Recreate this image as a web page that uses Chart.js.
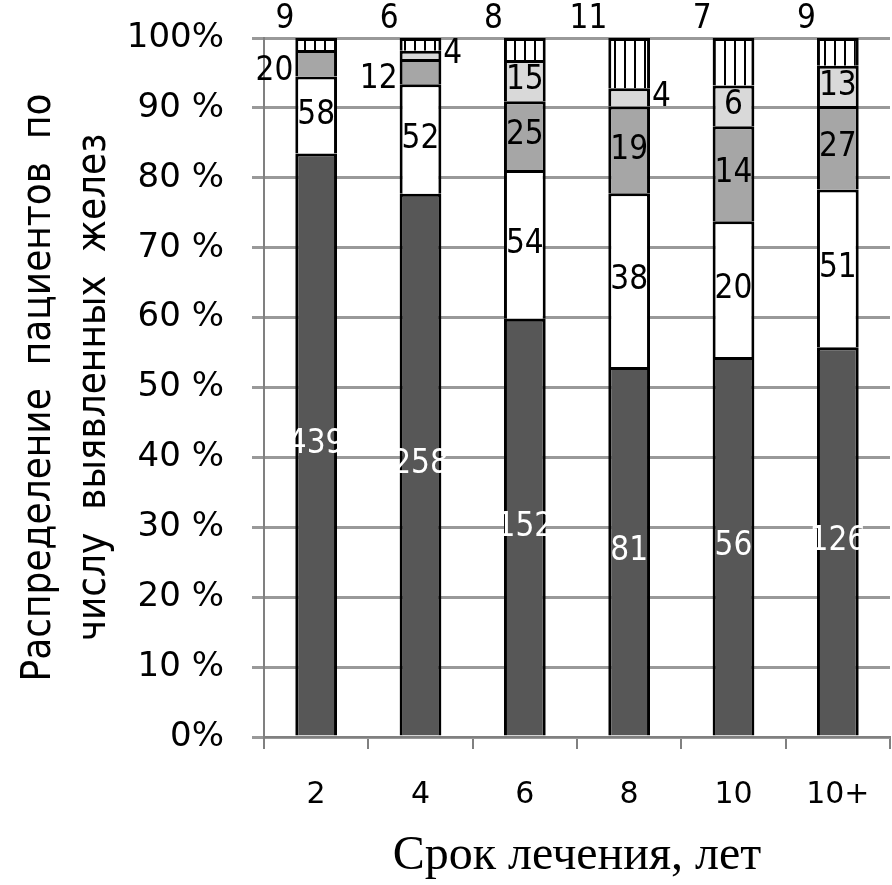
<!DOCTYPE html>
<html>
<head>
<meta charset="utf-8">
<script src="https://cdn.jsdelivr.net/npm/chart.js@4.4.0/dist/chart.umd.min.js"></script>
<style>
  html, body { margin: 0; padding: 0; background: #fff; }
  #wrap { width: 892px; height: 885px; }
</style>
</head>
<body>
<div id="wrap"><canvas id="chart" width="892" height="885"></canvas></div>
<script>
// категории и число пациентов в каждой группе (снизу вверх)
const categories = ['2', '4', '6', '8', '10', '10+'];
const darkCounts  = [439, 258, 152, 81, 56, 126];
const whiteCounts = [58, 52, 54, 38, 20, 51];
const grayCounts  = [20, 12, 25, 19, 14, 27];
const lightCounts = [0, 4, 15, 4, 6, 13];
const hatchCounts = [9, 6, 8, 11, 7, 9];
const yTickLabels = ['0%', '10 %', '20 %', '30 %', '40 %', '50 %', '60 %', '70 %', '80 %', '90 %', '100%'];

const seriesCounts = [darkCounts, whiteCounts, grayCounts, lightCounts, hatchCounts];
const totals = categories.map((_, i) => seriesCounts.reduce((s, arr) => s + arr[i], 0));

// штриховка вертикальными линиями
function hatchPattern() {
  const c = document.createElement('canvas');
  c.width = 10; c.height = 10;
  const g = c.getContext('2d');
  g.fillStyle = '#fff';
  g.fillRect(0, 0, 10, 10);
  g.fillStyle = '#000';
  g.fillRect(4, 0, 2, 10);
  return g.createPattern(c, 'repeat');
}

const colors = ['#575757', '#ffffff', '#a6a6a6', '#d9d9d9', hatchPattern()];

const datasets = seriesCounts.map((counts, di) => ({
  label: 's' + di,
  data: counts.map((c, i) => c / totals[i] * 100),
  backgroundColor: colors[di],
  borderColor: '#000',
  borderWidth: { top: 3, left: 3, right: 3, bottom: 0 },
  borderSkipped: false,
  barPercentage: 0.4,
  categoryPercentage: 1
}));

// подписи значений на сегментах
const labelPlugin = {
  id: 'segLabels',
  afterDatasetsDraw(chart) {
    const ctx = chart.ctx;
    ctx.save();
    ctx.font = '33px "DejaVu Sans Condensed", "DejaVu Sans"';
    chart.data.datasets.forEach((ds, di) => {
      const meta = chart.getDatasetMeta(di);
      meta.data.forEach((el, i) => {
        const n = seriesCounts[di][i];
        if (!n) return;
        const { x, y, base, width } = el.getProps(['x', 'y', 'base', 'width'], true);
        const h = Math.abs(base - y);
        const mid = (y + base) / 2;
        let tx = x, ty = mid, align = 'center', baseline = 'middle';
        if (di === 4) {
          tx = x - width / 2 - 1; ty = y - 2; align = 'right'; baseline = 'bottom';
        } else if (h < 32 && di === 2) {
          tx = x - width / 2 - 2; ty = mid + 8; align = 'right';
        } else if (h < 32) {
          tx = x + width / 2 + 2; align = 'left';
        }
        ctx.fillStyle = di === 0 ? '#fff' : '#000';
        ctx.textAlign = align;
        ctx.textBaseline = baseline;
        ctx.fillText(String(n), tx, ty);
      });
    });
    ctx.restore();
  }
};

const bgPlugin = {
  id: 'bg',
  beforeDraw(chart) {
    const ctx = chart.ctx;
    ctx.save();
    ctx.fillStyle = '#fff';
    ctx.fillRect(0, 0, chart.width, chart.height);
    ctx.restore();
  }
};

new Chart(document.getElementById('chart'), {
  type: 'bar',
  data: { labels: categories, datasets: datasets },
  plugins: [bgPlugin, labelPlugin],
  options: {
    responsive: false,
    animation: false,
    devicePixelRatio: 1,
    layout: { padding: { top: 38, right: 2, left: 0, bottom: 0 } },
    plugins: { legend: { display: false }, tooltip: { enabled: false } },
    scales: {
      x: {
        stacked: true,
        grid: { offset: true, drawOnChartArea: false, color: '#808080', lineWidth: 2, tickLength: 12 },
        border: { color: '#808080', width: 2 },
        ticks: { font: { family: 'DejaVu Sans', size: 30 }, color: '#000', padding: 28 },
        title: {
          display: true,
          text: 'Срок лечения, лет',
          font: { family: 'Liberation Serif', size: 48 },
          color: '#000',
          padding: { top: 0, bottom: 0 }
        },
        afterFit(s) { s.height = 148; s.paddingLeft = 0; s.paddingRight = 0; }
      },
      y: {
        stacked: true,
        min: 0,
        max: 100,
        ticks: {
          stepSize: 10,
          callback: (v) => yTickLabels[Math.round(v / 10)],
          font: { family: 'DejaVu Sans', size: 34 },
          color: '#000',
          padding: 28
        },
        grid: { color: '#999999', lineWidth: 3, tickLength: 12 },
        border: { color: '#808080', width: 2 },
        title: {
          display: true,
          text: ['Распределение  пациентов  по', 'числу  выявленных  желез'],
          font: { family: 'DejaVu Sans Condensed', size: 40, lineHeight: 1.375 },
          color: '#000',
          padding: { top: 12, bottom: 0 }
        },
        afterFit(s) { s.width = 264; s.paddingTop = 0; s.paddingBottom = 0; }
      }
    }
  }
});
</script>
</body>
</html>
